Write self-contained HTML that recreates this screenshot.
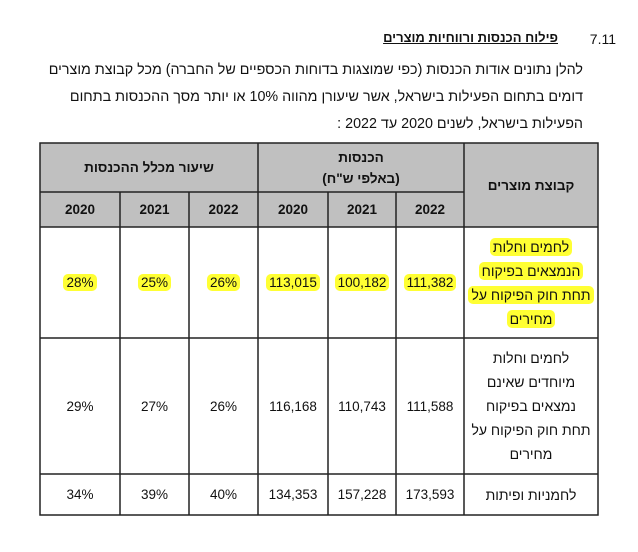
<!DOCTYPE html>
<html><head><meta charset="utf-8"><style>
body{margin:0;width:638px;height:552px;background:#fff;font-family:"Liberation Sans","Noto Sans CJK SC",sans-serif;color:#111;position:relative;overflow:hidden}
.t{position:absolute;white-space:nowrap;direction:rtl}
.cell{position:absolute;display:flex;align-items:center;justify-content:center;text-align:center;font-size:13.5px;box-sizing:border-box}
.hl{background:#ffff33;border-radius:5px;padding:1px 3px}
.b{font-weight:bold}
</style></head><body>
<div class="t" style="right:22px;top:31px;font-size:14px;direction:ltr">7.11</div>
<div class="t b" style="right:80px;top:30px;font-size:13px;text-decoration:underline">פילוח הכנסות ורווחיות מוצרים</div>
<div class="t" style="right:55px;top:62px;font-size:14.3px">להלן נתונים אודות הכנסות (כפי שמוצגות בדוחות הכספיים של החברה) מכל קבוצת מוצרים</div>
<div class="t" style="right:55px;top:89px;font-size:14.3px">דומים בתחום הפעילות בישראל, אשר שיעורן מהווה 10% או יותר מסך ההכנסות בתחום</div>
<div class="t" style="right:55px;top:116px;font-size:14.3px">הפעילות בישראל, לשנים 2020 עד 2022 :</div>
<svg style="position:absolute;left:0;top:0" width="638" height="552">
<rect x="40" y="143" width="558" height="84" fill="#c0c0c0"/>
<g stroke="#222" stroke-width="1.5" fill="none">
<rect x="40" y="143" width="558" height="372"/>
<line x1="40" y1="192" x2="464" y2="192"/>
<line x1="40" y1="227" x2="598" y2="227"/>
<line x1="40" y1="338" x2="598" y2="338"/>
<line x1="40" y1="474" x2="598" y2="474"/>
<line x1="258" y1="143" x2="258" y2="515"/>
<line x1="464" y1="143" x2="464" y2="515"/>
<line x1="120" y1="192" x2="120" y2="515"/>
<line x1="189" y1="192" x2="189" y2="515"/>
<line x1="328" y1="192" x2="328" y2="515"/>
<line x1="396" y1="192" x2="396" y2="515"/>
</g></svg>
<div class="cell b" style="left:40px;top:143px;width:218px;height:49px">שיעור מכלל ההכנסות</div>
<div class="cell b" style="left:258px;top:143px;width:206px;height:49px;line-height:21px">הכנסות<br>(באלפי ש"ח)</div>
<div class="cell b" style="left:464px;top:143px;width:134px;height:84px">קבוצת מוצרים</div>
<div class="cell b" style="left:40px;top:192px;width:80px;height:35px">2020</div>
<div class="cell b" style="left:120px;top:192px;width:69px;height:35px">2021</div>
<div class="cell b" style="left:189px;top:192px;width:69px;height:35px">2022</div>
<div class="cell b" style="left:258px;top:192px;width:70px;height:35px">2020</div>
<div class="cell b" style="left:328px;top:192px;width:68px;height:35px">2021</div>
<div class="cell b" style="left:396px;top:192px;width:68px;height:35px">2022</div>

<div class="cell" style="left:40px;top:227px;width:80px;height:111px"><span class="hl">28%</span></div>
<div class="cell" style="left:120px;top:227px;width:69px;height:111px"><span class="hl">25%</span></div>
<div class="cell" style="left:189px;top:227px;width:69px;height:111px"><span class="hl">26%</span></div>
<div class="cell" style="left:258px;top:227px;width:70px;height:111px"><span class="hl">113,015</span></div>
<div class="cell" style="left:328px;top:227px;width:68px;height:111px"><span class="hl">100,182</span></div>
<div class="cell" style="left:396px;top:227px;width:68px;height:111px"><span class="hl">111,382</span></div>
<div class="cell" style="left:464px;top:227px;width:134px;height:111px;direction:rtl;line-height:24px;font-size:14px"><div><span class="hl">לחמים וחלות</span><br><span class="hl">הנמצאים בפיקוח</span><br><span class="hl">תחת חוק הפיקוח על</span><br><span class="hl">מחירים</span></div></div>

<div class="cell" style="left:40px;top:338px;width:80px;height:136px">29%</div>
<div class="cell" style="left:120px;top:338px;width:69px;height:136px">27%</div>
<div class="cell" style="left:189px;top:338px;width:69px;height:136px">26%</div>
<div class="cell" style="left:258px;top:338px;width:70px;height:136px">116,168</div>
<div class="cell" style="left:328px;top:338px;width:68px;height:136px">110,743</div>
<div class="cell" style="left:396px;top:338px;width:68px;height:136px">111,588</div>
<div class="cell" style="left:464px;top:338px;width:134px;height:136px;direction:rtl;line-height:24px;font-size:14px"><div>לחמים וחלות<br>מיוחדים שאינם<br>נמצאים בפיקוח<br>תחת חוק הפיקוח על<br>מחירים</div></div>

<div class="cell" style="left:40px;top:474px;width:80px;height:41px">34%</div>
<div class="cell" style="left:120px;top:474px;width:69px;height:41px">39%</div>
<div class="cell" style="left:189px;top:474px;width:69px;height:41px">40%</div>
<div class="cell" style="left:258px;top:474px;width:70px;height:41px">134,353</div>
<div class="cell" style="left:328px;top:474px;width:68px;height:41px">157,228</div>
<div class="cell" style="left:396px;top:474px;width:68px;height:41px">173,593</div>
<div class="cell" style="left:464px;top:474px;width:134px;height:41px;direction:rtl;font-size:14px">לחמניות ופיתות</div>
</body></html>
